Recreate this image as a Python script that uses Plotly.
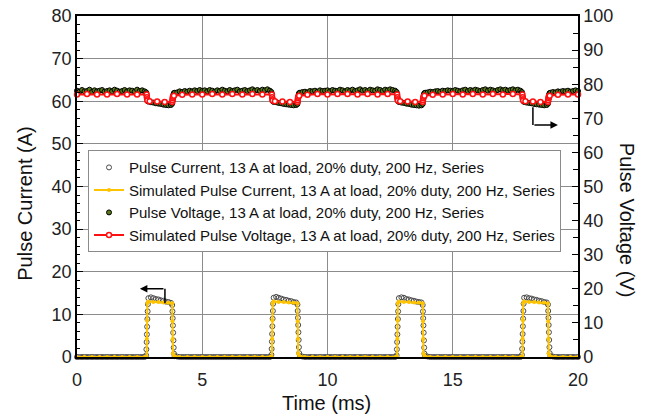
import plotly.graph_objects as go

# ---------------- data ----------------
# measured samples (time in ms) shared by measured current and measured voltage
t_meas = [
    0.0, 0.1, 0.2, 0.3, 0.4, 0.5, 0.6, 0.7, 0.8, 0.9, 1.0, 1.1, 1.2, 1.3, 1.4, 1.5, 1.6, 1.7, 1.8, 1.9,
    2.0, 2.1, 2.2, 2.3, 2.4, 2.5, 2.6, 2.7,
    2.76, 2.77, 2.78, 2.79, 2.8, 2.81, 2.82, 2.83,
    2.85, 2.95, 3.05, 3.15, 3.25, 3.35, 3.45, 3.55, 3.65, 3.75,
    3.8, 3.81, 3.82, 3.83, 3.84, 3.85, 3.86, 3.87,
    3.9, 4.0, 4.1, 4.2, 4.3, 4.4, 4.5, 4.6, 4.7, 4.8, 4.9,
    5.0, 5.1, 5.2, 5.3, 5.4, 5.5, 5.6, 5.7, 5.8, 5.9, 6.0, 6.1, 6.2, 6.3, 6.4, 6.5, 6.6, 6.7, 6.8, 6.9,
    7.0, 7.1, 7.2, 7.3, 7.4, 7.5, 7.6, 7.7,
    7.76, 7.77, 7.78, 7.79, 7.8, 7.81, 7.82, 7.83,
    7.85, 7.95, 8.05, 8.15, 8.25, 8.35, 8.45, 8.55, 8.65, 8.75,
    8.8, 8.81, 8.82, 8.83, 8.84, 8.85, 8.86, 8.87,
    8.9, 9.0, 9.1, 9.2, 9.3, 9.4, 9.5, 9.6, 9.7, 9.8, 9.9,
    10.0, 10.1, 10.2, 10.3, 10.4, 10.5, 10.6, 10.7, 10.8, 10.9, 11.0, 11.1, 11.2, 11.3, 11.4, 11.5, 11.6,
    11.7, 11.8, 11.9, 12.0, 12.1, 12.2, 12.3, 12.4, 12.5, 12.6, 12.7,
    12.76, 12.77, 12.78, 12.79, 12.8, 12.81, 12.82, 12.83,
    12.85, 12.95, 13.05, 13.15, 13.25, 13.35, 13.45, 13.55, 13.65, 13.75,
    13.8, 13.81, 13.82, 13.83, 13.84, 13.85, 13.86, 13.87,
    13.9, 14.0, 14.1, 14.2, 14.3, 14.4, 14.5, 14.6, 14.7, 14.8, 14.9,
    15.0, 15.1, 15.2, 15.3, 15.4, 15.5, 15.6, 15.7, 15.8, 15.9, 16.0, 16.1, 16.2, 16.3, 16.4, 16.5, 16.6,
    16.7, 16.8, 16.9, 17.0, 17.1, 17.2, 17.3, 17.4, 17.5, 17.6, 17.7,
    17.76, 17.77, 17.78, 17.79, 17.8, 17.81, 17.82, 17.83,
    17.85, 17.95, 18.05, 18.15, 18.25, 18.35, 18.45, 18.55, 18.65, 18.75,
    18.8, 18.81, 18.82, 18.83, 18.84, 18.85, 18.86, 18.87,
    18.9, 19.0, 19.1, 19.2, 19.3, 19.4, 19.5, 19.6, 19.7, 19.8, 19.9,
    20.0,
]

# measured pulse current (A)
i_meas = [
    0, 0, 0, 0, 0, 0, 0, 0, 0, 0, 0, 0, 0, 0, 0, 0, 0, 0, 0, 0, 0, 0, 0, 0, 0, 0, 0, 0,
    0.4, 1.8, 3.5, 5.3, 7.1, 8.9, 10.7, 12.4,
    13.8, 14.0, 13.8, 13.6, 13.5, 13.3, 13.2, 13.0, 12.9, 12.7,
    12.2, 10.7, 9.1, 7.4, 5.7, 3.9, 2.2, 0.8,
    0.2, 0.1, 0, 0, 0, 0, 0, 0, 0, 0, 0,
    0, 0, 0, 0, 0, 0, 0, 0, 0, 0, 0, 0, 0, 0, 0, 0, 0, 0, 0, 0, 0, 0, 0, 0, 0, 0, 0, 0,
    0.5, 1.9, 3.6, 5.4, 7.2, 9.0, 10.8, 12.5,
    13.9, 14.1, 13.9, 13.7, 13.5, 13.4, 13.2, 13.1, 12.9, 12.8,
    12.3, 10.8, 9.2, 7.5, 5.8, 4.0, 2.3, 0.9,
    0.2, 0.1, 0, 0, 0, 0, 0, 0, 0, 0, 0,
    0, 0, 0, 0, 0, 0, 0, 0, 0, 0, 0, 0, 0, 0, 0, 0, 0, 0, 0, 0, 0, 0, 0, 0, 0, 0, 0, 0,
    0.4, 1.8, 3.5, 5.3, 7.1, 8.9, 10.7, 12.4,
    13.8, 14.0, 13.9, 13.6, 13.5, 13.3, 13.2, 13.0, 12.9, 12.8,
    12.2, 10.7, 9.1, 7.4, 5.7, 3.9, 2.2, 0.8,
    0.2, 0.1, 0, 0, 0, 0, 0, 0, 0, 0, 0,
    0, 0, 0, 0, 0, 0, 0, 0, 0, 0, 0, 0, 0, 0, 0, 0, 0, 0, 0, 0, 0, 0, 0, 0, 0, 0, 0, 0,
    0.5, 1.9, 3.6, 5.4, 7.2, 9.0, 10.8, 12.5,
    13.9, 14.0, 13.8, 13.7, 13.5, 13.4, 13.2, 13.1, 12.9, 12.8,
    12.3, 10.8, 9.2, 7.5, 5.8, 4.0, 2.3, 0.9,
    0.2, 0.1, 0, 0, 0, 0, 0, 0, 0, 0, 0,
    0,
]

# measured pulse voltage (V)
v_meas = [
    78.1, 77.8, 78.3, 77.9, 78.0, 78.4, 77.7, 78.2, 77.9, 78.1, 78.3, 77.8, 78.0, 78.2, 77.9, 78.4, 78.1,
    77.8, 78.0, 78.3, 77.9, 78.2, 78.1, 77.8, 78.4, 78.0, 78.2, 77.9,
    77.6, 77.1, 76.6, 76.1, 75.7, 75.4, 75.2, 75.0,
    74.9, 74.7, 74.6, 74.4, 74.3, 74.2, 74.0, 73.9, 73.8, 73.9,
    74.3, 74.9, 75.5, 76.0, 76.5, 76.9, 77.2, 77.4,
    77.5, 77.6, 77.9, 77.7, 78.0, 77.8, 78.1, 77.9, 78.2, 78.0, 78.3,
    78.0, 78.2, 77.9, 78.3, 78.1, 77.8, 78.2, 78.0, 78.4, 78.1, 77.9, 78.3, 78.0, 78.2, 78.4, 77.9, 78.1,
    78.3, 78.0, 78.2, 78.5, 78.1, 78.3, 78.0, 78.4, 78.2, 78.5, 78.1,
    77.7, 77.2, 76.7, 76.2, 75.8, 75.5, 75.2, 75.0,
    74.8, 74.7, 74.5, 74.4, 74.2, 74.1, 74.0, 73.9, 73.8, 73.9,
    74.2, 74.8, 75.4, 76.0, 76.5, 76.9, 77.2, 77.4,
    77.5, 77.7, 77.8, 77.6, 78.0, 77.9, 78.1, 77.8, 78.2, 78.0, 78.1,
    78.2, 77.9, 78.3, 78.1, 78.0, 78.4, 78.2, 77.9, 78.3, 78.1, 78.4, 78.0, 78.2, 78.5, 78.1, 78.3, 78.0,
    78.4, 78.2, 78.1, 78.5, 78.3, 78.0, 78.4, 78.2, 78.5, 78.3, 78.1,
    77.7, 77.1, 76.6, 76.2, 75.7, 75.4, 75.2, 75.0,
    74.8, 74.6, 74.5, 74.3, 74.2, 74.0, 73.9, 73.8, 73.7, 73.8,
    74.2, 74.8, 75.4, 76.0, 76.5, 76.9, 77.2, 77.4,
    77.5, 77.6, 77.8, 77.7, 77.9, 78.0, 77.8, 78.1, 78.0, 78.2, 78.1,
    78.0, 78.3, 78.1, 77.9, 78.2, 78.4, 78.0, 78.3, 78.1, 78.4, 78.2, 78.0, 78.3, 78.5, 78.1, 78.4, 78.2,
    78.0, 78.3, 78.5, 78.2, 78.4, 78.1, 78.3, 78.5, 78.2, 78.4, 78.1,
    77.7, 77.2, 76.7, 76.2, 75.8, 75.5, 75.2, 75.0,
    74.8, 74.6, 74.5, 74.4, 74.2, 74.1, 74.0, 73.9, 73.8, 73.9,
    74.3, 74.9, 75.5, 76.0, 76.5, 76.9, 77.2, 77.4,
    77.5, 77.7, 77.6, 77.9, 77.8, 78.0, 77.9, 78.1, 77.8, 78.0, 78.2,
    78.0,
]

# simulated current samples (time in ms)
t_sim_i = [
    0.0, 0.3, 0.6, 0.9, 1.2, 1.5, 1.8, 2.1, 2.4, 2.7, 2.78, 2.79, 2.8, 2.81, 2.85,
    3.05, 3.25, 3.45, 3.65, 3.8, 3.81, 3.82, 3.83, 3.87, 4.1, 4.4, 4.7,
    5.0, 5.3, 5.6, 5.9, 6.2, 6.5, 6.8, 7.1, 7.4, 7.7, 7.78, 7.79, 7.8, 7.81, 7.85,
    8.05, 8.25, 8.45, 8.65, 8.8, 8.81, 8.82, 8.83, 8.87, 9.1, 9.4, 9.7,
    10.0, 10.3, 10.6, 10.9, 11.2, 11.5, 11.8, 12.1, 12.4, 12.7, 12.78, 12.79, 12.8, 12.81, 12.85,
    13.05, 13.25, 13.45, 13.65, 13.8, 13.81, 13.82, 13.83, 13.87, 14.1, 14.4, 14.7,
    15.0, 15.3, 15.6, 15.9, 16.2, 16.5, 16.8, 17.1, 17.4, 17.7, 17.78, 17.79, 17.8, 17.81, 17.85,
    18.05, 18.25, 18.45, 18.65, 18.8, 18.81, 18.82, 18.83, 18.87, 19.1, 19.4, 19.7,
    20.0,
]

# simulated pulse current (A)
i_sim = [
    0, 0, 0, 0, 0, 0, 0, 0, 0, 0, 0, 4.3, 8.6, 12.6, 13.0,
    12.9, 12.9, 12.8, 12.7, 12.6, 8.4, 4.2, 0.8, 0.3, 0, 0, 0,
    0, 0, 0, 0, 0, 0, 0, 0, 0, 0, 0, 4.3, 8.6, 12.6, 13.0,
    12.9, 12.9, 12.8, 12.7, 12.6, 8.4, 4.2, 0.8, 0.3, 0, 0, 0,
    0, 0, 0, 0, 0, 0, 0, 0, 0, 0, 0, 4.3, 8.6, 12.6, 13.0,
    12.9, 12.9, 12.8, 12.7, 12.6, 8.4, 4.2, 0.8, 0.3, 0, 0, 0,
    0, 0, 0, 0, 0, 0, 0, 0, 0, 0, 0, 4.3, 8.6, 12.6, 13.0,
    12.9, 12.9, 12.8, 12.7, 12.6, 8.4, 4.2, 0.8, 0.3, 0, 0, 0,
    0,
]

# simulated voltage samples (time in ms)
t_sim_v = [
    0.0, 0.4, 0.8, 1.2, 1.6, 2.0, 2.4, 2.78, 2.79, 2.8, 2.81, 2.9, 3.2, 3.5, 3.8, 3.81, 3.82, 3.83, 3.87, 4.2, 4.6,
    5.0, 5.4, 5.8, 6.2, 6.6, 7.0, 7.4, 7.78, 7.79, 7.8, 7.81, 7.9, 8.2, 8.5, 8.8, 8.81, 8.82, 8.83, 8.87, 9.2, 9.6,
    10.0, 10.4, 10.8, 11.2, 11.6, 12.0, 12.4, 12.78, 12.79, 12.8, 12.81, 12.9, 13.2, 13.5, 13.8, 13.81, 13.82,
    13.83, 13.87, 14.2, 14.6,
    15.0, 15.4, 15.8, 16.2, 16.6, 17.0, 17.4, 17.78, 17.79, 17.8, 17.81, 17.9, 18.2, 18.5, 18.8, 18.81, 18.82,
    18.83, 18.87, 19.2, 19.6,
    20.0,
]

# simulated pulse voltage (V)
v_sim = [
    77.0, 77.1, 77.0, 77.0, 77.1, 77.0, 77.0, 77.0, 76.2, 75.6, 75.2, 75.0, 74.9, 74.8, 74.8, 75.3, 75.9, 76.3, 76.6, 76.9, 77.0,
    77.0, 77.1, 77.0, 77.1, 77.0, 77.1, 77.0, 77.0, 76.2, 75.6, 75.2, 75.0, 74.9, 74.8, 74.8, 75.3, 75.9, 76.3, 76.6, 76.9, 77.1,
    77.0, 77.1, 77.1, 77.0, 77.1, 77.0, 77.1, 77.0, 76.2, 75.6, 75.2, 75.0, 74.9, 74.8, 74.8, 75.3, 75.9,
    76.3, 76.6, 76.9, 77.0,
    77.1, 77.0, 77.1, 77.0, 77.1, 77.0, 77.1, 77.0, 76.2, 75.6, 75.2, 75.0, 74.9, 74.8, 74.8, 75.3, 75.9,
    76.3, 76.6, 76.9, 77.0,
    77.0,
]

assert len(t_meas) == len(i_meas) == len(v_meas), (len(t_meas), len(i_meas), len(v_meas))
assert len(t_sim_i) == len(i_sim), (len(t_sim_i), len(i_sim))
assert len(t_sim_v) == len(v_sim), (len(t_sim_v), len(v_sim))

names = [
    "Pulse Current, 13 A at load, 20% duty, 200 Hz, Series",
    "Simulated Pulse Current, 13 A at load, 20% duty, 200 Hz, Series",
    "Pulse Voltage, 13 A at load, 20% duty, 200 Hz, Series",
    "Simulated Pulse Voltage, 13 A at load, 20% duty, 200 Hz, Series",
]

FONT = "Liberation Sans, Arial, sans-serif"

fig = go.Figure()
fig.add_trace(go.Scatter(
    x=t_meas, y=i_meas, name=names[0], mode="markers", cliponaxis=False,
    marker=dict(symbol="circle-open", size=5, color="#4a4a4a", line=dict(width=1)),
))
fig.add_trace(go.Scatter(
    x=t_sim_i, y=i_sim, name=names[1], mode="lines+markers", cliponaxis=False,
    line=dict(color="#FFC400", width=2),
    marker=dict(symbol="circle", size=4, color="#FFC400"),
))
fig.add_trace(go.Scatter(
    x=t_meas, y=v_meas, name=names[2], mode="markers", yaxis="y2", cliponaxis=False,
    marker=dict(symbol="circle", size=5, color="#5a7a1a", line=dict(color="black", width=1)),
))
fig.add_trace(go.Scatter(
    x=t_sim_v, y=v_sim, name=names[3], mode="lines+markers", yaxis="y2", cliponaxis=False,
    line=dict(color="#FF1010", width=2),
    marker=dict(symbol="circle", size=5, color="white", line=dict(color="#FF1010", width=1.5)),
))

axis_font = dict(family=FONT, size=18, color="#222")

# plot box at x 77..578, y 16..357 of the 652x416 window (body margin removed below)
fig.update_layout(
    width=652, height=416,
    margin=dict(l=77, r=74, t=16, b=59),
    plot_bgcolor="white", paper_bgcolor="white",
    font=dict(family=FONT, color="#111"),
    showlegend=True,
    legend=dict(
        x=0.022, y=0.457, xanchor="left", yanchor="middle",
        bgcolor="white", bordercolor="#8a8a8a", borderwidth=1,
        font=dict(family=FONT, size=15, color="#111"),
        tracegroupgap=0, itemwidth=30,
    ),
    xaxis=dict(
        range=[0, 20], dtick=5, tick0=0, automargin=False,
        showgrid=True, gridcolor="#8c8c8c", gridwidth=1,
        showline=True, linecolor="black", linewidth=1.5, mirror=True,
        ticks="", zeroline=False, tickfont=axis_font,
        ticklabelstandoff=6, ticklabeloverflow="allow",
    ),
    yaxis=dict(
        range=[0, 80], dtick=10, tick0=0, automargin=False,
        showgrid=True, gridcolor="#8c8c8c", gridwidth=1,
        showline=True, linecolor="black", linewidth=1.5,
        ticks="inside", ticklen=6, tickwidth=1.2, tickcolor="black",
        minor=dict(dtick=2, ticks="inside", ticklen=3, tickcolor="black", showgrid=False),
        zeroline=False, tickfont=axis_font, ticklabeloverflow="allow",
    ),
    yaxis2=dict(
        range=[0, 100], dtick=10, tick0=0, overlaying="y", side="right", automargin=False,
        showgrid=False, showline=True, linecolor="black", linewidth=1.5,
        ticks="inside", ticklen=6, tickwidth=1.2, tickcolor="black",
        minor=dict(dtick=5, ticks="inside", ticklen=5, tickcolor="black", showgrid=False),
        zeroline=False, tickfont=axis_font, ticklabeloverflow="allow",
    ),
)

title_font = dict(family=FONT, size=20, color="#111")
fig.add_annotation(text="Time (ms)", xref="paper", yref="paper", x=0.499, y=-0.135,
                   showarrow=False, font=title_font, xanchor="center", yanchor="middle")
fig.add_annotation(text="Pulse Current (A)", xref="paper", yref="paper", x=-0.104, y=0.452,
                   showarrow=False, font=title_font, textangle=-90, xanchor="center", yanchor="middle")
fig.add_annotation(text="Pulse Voltage (V)", xref="paper", yref="paper", x=1.098, y=0.402,
                   showarrow=False, font=title_font, textangle=90, xanchor="center", yanchor="middle")

# arrows pointing to the axis each series belongs to
fig.add_shape(type="line", xref="x", yref="y", x0=3.51, x1=3.51, y0=12.6, y1=16.0,
              line=dict(color="black", width=1.5))
fig.add_annotation(x=2.51, y=16.0, ax=3.51, ay=16.0, xref="x", yref="y", axref="x", ayref="y",
                   showarrow=True, arrowhead=2, arrowsize=1, arrowwidth=1.5, arrowcolor="black", text="")
fig.add_shape(type="line", xref="x", yref="y", x0=18.2, x1=18.2, y0=58.6, y1=54.4,
              line=dict(color="black", width=1.5))
fig.add_annotation(x=19.2, y=54.4, ax=18.2, ay=54.4, xref="x", yref="y", axref="x", ayref="y",
                   showarrow=True, arrowhead=2, arrowsize=1, arrowwidth=1.5, arrowcolor="black", text="")

fig.write_html("out.html", config={"displayModeBar": False},
               post_script="document.body.style.margin='0px';")
